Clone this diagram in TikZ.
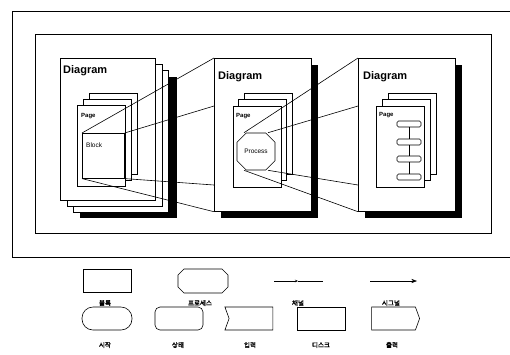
\documentclass[tikz,border=0pt]{standalone}
\usepackage{fontspec}
\setmainfont{Liberation Sans}
\newfontfamily\kr{Noto Sans CJK KR}[AutoFakeBold=2]
\usetikzlibrary{arrows.meta,calc,shapes.misc,shapes.symbols}

\tikzset{
  sheet/.style={draw,fill=white,line width=0.7pt,anchor=north west,inner sep=0pt,
    minimum width=97pt,minimum height=153pt},
  shade/.style={fill=black,anchor=north west,inner sep=0pt,
    minimum width=97pt,minimum height=153pt},
  leaf/.style={draw,fill=white,line width=0.6pt,anchor=north west,inner sep=0pt,
    minimum width=48pt,minimum height=81pt},
  dlabel/.style={anchor=base west,inner sep=0pt,font=\bfseries\fontsize{11}{11}\selectfont},
  plabel/.style={anchor=base west,inner sep=0pt,font=\bfseries\fontsize{6}{6}\selectfont},
  item/.style={draw,fill=white,line width=0.6pt,rounded corners=1.5pt,inner sep=0pt,
    minimum width=24pt,minimum height=6pt},
  sym/.style={draw,line width=0.6pt,inner sep=0pt,minimum width=48pt,minimum height=23pt},
  octa/.style={chamfered rectangle,chamfered rectangle xsep=#1,chamfered rectangle ysep=#1},
  kname/.style={inner sep=0pt,font=\kr\bfseries\fontsize{6.5}{6.5}\selectfont},
  link/.style={line width=0.6pt}
}

\begin{document}
\begin{tikzpicture}[>=Stealth,x=1pt,y=-1pt]
\useasboundingbox (0,0) rectangle (510,354);
% frames
\draw[line width=0.7pt] (515,11) -- (12,11) -- (12,257) -- (515,257);
\node[draw,line width=0.7pt,anchor=north west,inner sep=0pt,minimum width=456pt,minimum height=199pt] (inner) at (35,34) {};

% left diagram
\node[shade,minimum height=141pt] (lsh) at (80,77) {};
\node[sheet,minimum width=95pt,minimum height=142pt] (l3) at (73,70) {};
\node[sheet,minimum width=95pt,minimum height=142pt] (l2) at (67,64) {};
\node[sheet,minimum width=95pt,minimum height=142pt] (left) at (60,58) {};
\node[dlabel] at (63,73) {Diagram};
\node[leaf] (lp3) at (89,93) {};
\node[leaf] (lp2) at (83,99) {};
\node[leaf] (lpage) at (77,105) {};
\node[plabel] at (81,117) {Page};
\node[draw,fill=white,line width=0.6pt,anchor=north west,inner sep=0pt,
  minimum width=42pt,minimum height=45pt] (block) at (82,133) {};
\node[anchor=base west,inner sep=0pt,font=\fontsize{6.5}{6.5}\selectfont] at (86,147) {Block};

% middle diagram
\node[shade] (msh) at (221,65) {};
\node[sheet] (mid) at (214,58) {};
\node[dlabel] at (218,79) {Diagram};
\node[leaf] (mp3) at (244,93) {};
\node[leaf] (mp2) at (238,99) {};
\node[leaf] (mpage) at (233,106) {};
\node[plabel] at (236,117) {Page};
\node[draw,fill=white,line width=0.6pt,octa=7pt,
  inner sep=0pt,minimum width=38pt,minimum height=37pt,
  font=\fontsize{6.5}{6.5}\selectfont] (proc) at (256,151.5) {Process};

% right diagram
\node[shade] (rsh) at (365,65) {};
\node[sheet] (rgt) at (358,58) {};
\node[dlabel] at (363,79) {Diagram};
\node[leaf] (rp3) at (388,93) {};
\node[leaf] (rp2) at (382,99) {};
\node[leaf] (rpage) at (376,106) {};
\node[plabel] at (379,116) {Page};
\node[item] (i1) at (409,124) {};
\node[item] (i2) at (409,142) {};
\node[item] (i3) at (409,159) {};
\node[item] (i4) at (409,177) {};
\draw[line width=0.6pt] (i1) -- (i2) (i2) -- (i3) (i3) -- (i4);

% zoom lines
\coordinate (ma) at (214,106);
\coordinate (mb) at (214,185);
\coordinate (ra) at (358,106);
\coordinate (rb) at (358,185);
\coordinate (pnw) at ($(proc.north)+(-12,0)$);
\coordinate (pne) at ($(proc.north)+(12,0)$);
\coordinate (pse) at ($(proc.south)+(12,0)$);
\coordinate (psw) at ($(proc.south)+(-12,0)$);
\draw[link] (block.north west) -- (mid.north west);
\draw[link] (block.north east) -- (ma);
\draw[link] (block.south east) -- (mb);
\draw[link] (block.south west) -- (mid.south west);
\draw[link] (pnw) -- (rgt.north west);
\draw[link] (pne) -- (ra);
\draw[link] (pse) -- (rb);
\draw[link] (psw) -- (rgt.south west);

% legend
\node[sym] (sblock) at (107,280.5) {};
\node[kname] at (105,303) {블록};
\node[sym,octa=6pt,minimum width=50pt,minimum height=24pt] (sproc) at (203,281) {\strut};
\node[kname] at (200,303) {프로세스};
\coordinate (cha) at (274,281);
\coordinate (chm) at (298,281);
\coordinate (chb) at (323,281);
\draw[line width=0.6pt,-{Stealth[length=3pt,width=2.5pt]}] (cha) -- (chm);
\draw[line width=0.6pt] (chm) -- (chb);
\node[kname] at (298,303) {채널};
\coordinate (sga) at (370,281);
\coordinate (sgb) at (417,281);
\draw[line width=0.6pt,->] (sga) -- (sgb);
\node[kname] at (391,303) {시그널};

\node[sym,rounded corners=11pt,minimum width=50pt] (sstart) at (107,318.5) {};
\node[kname] at (105,345) {시작};
\node[sym,rounded corners=5pt] (sstate) at (179,318.5) {};
\node[kname] at (178,345) {상태};
\node[sym,signal,signal from=west,signal to=nowhere,signal pointer angle=140] (sin) at (251,318.5) {};
\node[kname] at (250,345) {입력};
\node[sym] (sdisk) at (321,318.5) {};
\node[kname] at (321,345) {디스크};
\node[sym,signal,signal to=east,signal from=nowhere,signal pointer angle=140] (sout) at (393.5,318.5) {};
\node[kname] at (392,345) {출력};
\end{tikzpicture}
\end{document}
